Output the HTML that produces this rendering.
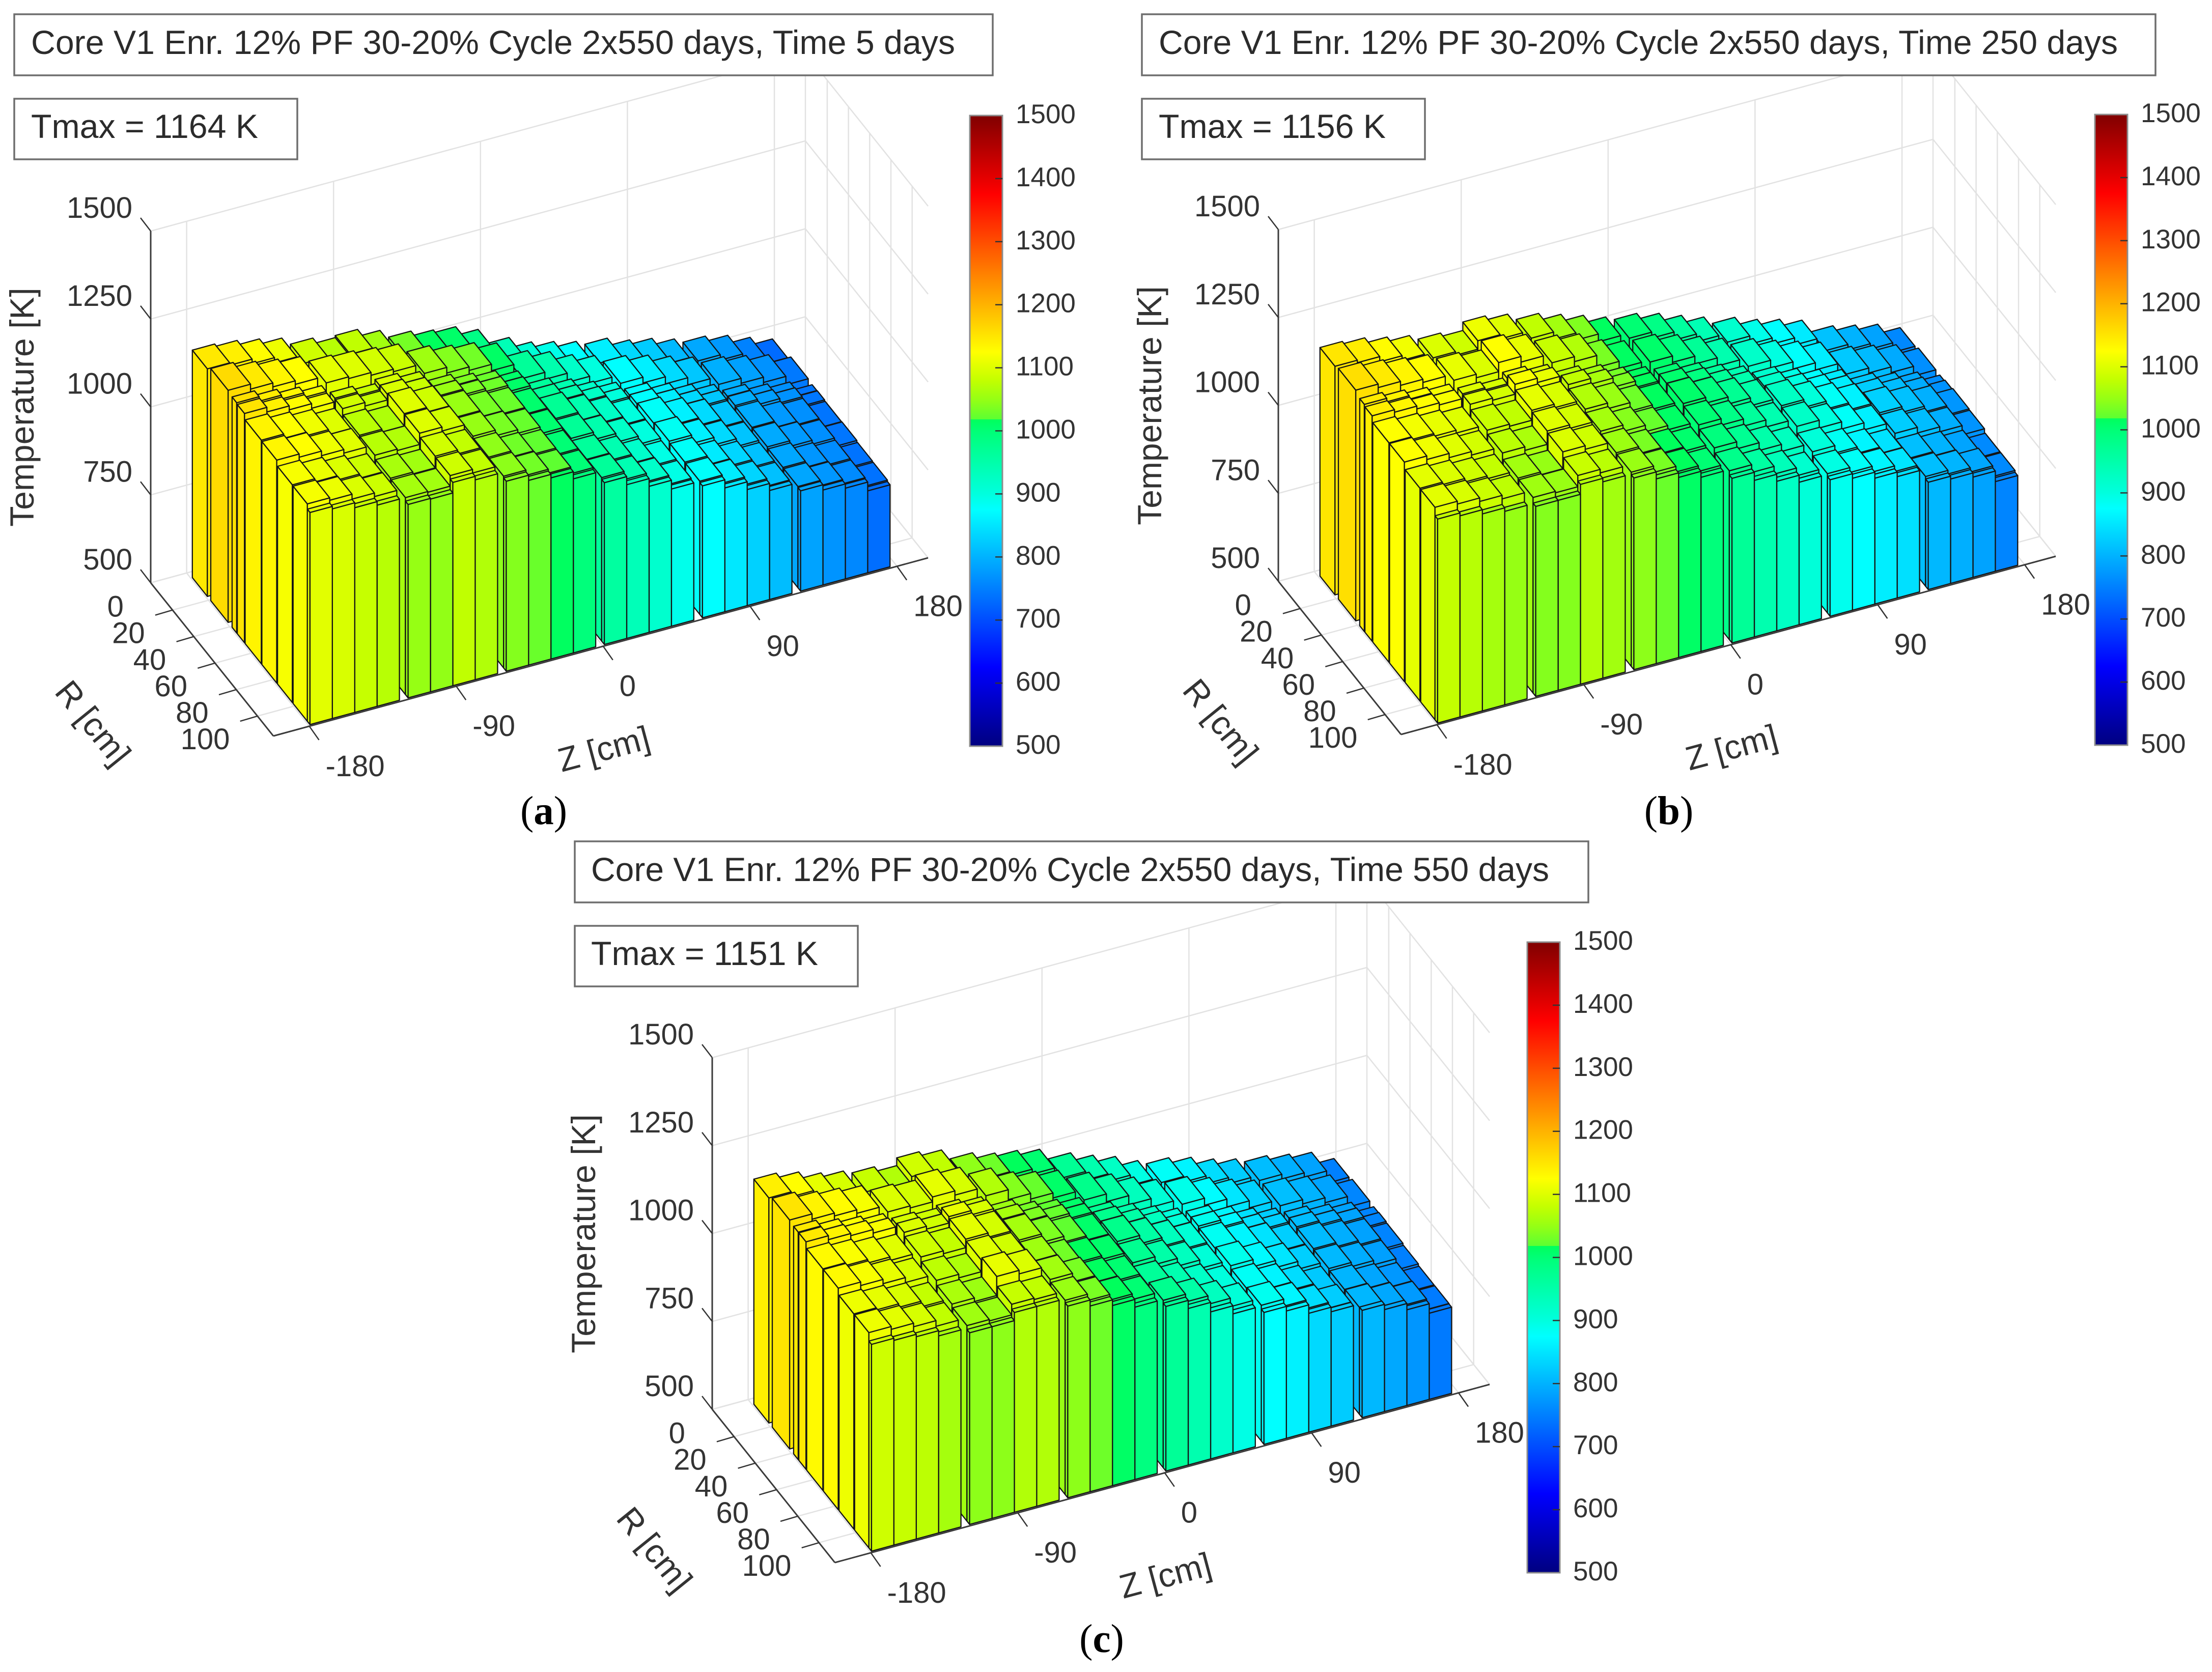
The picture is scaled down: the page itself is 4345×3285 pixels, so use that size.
<!DOCTYPE html>
<html lang="en">
<head>
<meta charset="utf-8">
<title>Core V1 temperature maps</title>
<style>
html,body{margin:0;padding:0;background:#fff;}
svg{display:block;font-family:"Liberation Sans",Arial,sans-serif;}
.box{fill:#fff;stroke:#6e6e6e;stroke-width:3.5;}
.boxtext{font-size:66px;fill:#2b2b2b;}
.axt{font-size:66px;fill:#333;text-anchor:middle;dominant-baseline:central;}
.cap{font-family:"Liberation Serif",serif;font-size:79px;fill:#000;text-anchor:middle;}
</style>
</head>
<body>
<svg id="figure" xmlns="http://www.w3.org/2000/svg" width="4345" height="3285" viewBox="0 0 4345 3285">
<defs><linearGradient id="cmap" x1="0" y1="1" x2="0" y2="0"></linearGradient></defs>
<rect x="0" y="0" width="4345" height="3285" fill="#fff"/>

<g id="plot-a"></g>
<g id="plot-b"></g>
<g id="plot-c"></g>

<g>
<rect class="box" x="28" y="28" width="1922" height="120"/>
<text class="boxtext" x="61" y="106" textLength="1815" lengthAdjust="spacingAndGlyphs">Core V1 Enr. 12% PF 30-20% Cycle 2x550 days, Time 5 days</text>
<rect class="box" x="28" y="194" width="556" height="119"/>
<text class="boxtext" x="61" y="271" textLength="446" lengthAdjust="spacingAndGlyphs">Tmax = 1164 K</text>
<text class="axt" transform="translate(43,800) rotate(-90)">Temperature [K]</text>
<text class="axt" transform="translate(183,1420) rotate(51)">R [cm]</text>
<text class="axt" transform="translate(1186,1471) rotate(-15)">Z [cm]</text>
<text class="cap" x="1068" y="1619">(<tspan font-weight="bold">a</tspan>)</text>
</g>

<g>
<rect class="box" x="2243" y="28" width="1991" height="120"/>
<text class="boxtext" x="2276" y="106" textLength="1884" lengthAdjust="spacingAndGlyphs">Core V1 Enr. 12% PF 30-20% Cycle 2x550 days, Time 250 days</text>
<rect class="box" x="2243" y="194" width="556" height="119"/>
<text class="boxtext" x="2276" y="271" textLength="446" lengthAdjust="spacingAndGlyphs">Tmax = 1156 K</text>
<text class="axt" transform="translate(2258,797) rotate(-90)">Temperature [K]</text>
<text class="axt" transform="translate(2398,1417) rotate(51)">R [cm]</text>
<text class="axt" transform="translate(3401,1468) rotate(-15)">Z [cm]</text>
<text class="cap" x="3278" y="1619">(<tspan font-weight="bold">b</tspan>)</text>
</g>

<g>
<rect class="box" x="1129" y="1653" width="1991" height="120"/>
<text class="boxtext" x="1161" y="1731" textLength="1882" lengthAdjust="spacingAndGlyphs">Core V1 Enr. 12% PF 30-20% Cycle 2x550 days, Time 550 days</text>
<rect class="box" x="1129" y="1819" width="556" height="119"/>
<text class="boxtext" x="1161" y="1896" textLength="446" lengthAdjust="spacingAndGlyphs">Tmax = 1151 K</text>
<text class="axt" transform="translate(1146,2424) rotate(-90)">Temperature [K]</text>
<text class="axt" transform="translate(1286,3044) rotate(51)">R [cm]</text>
<text class="axt" transform="translate(2289,3095) rotate(-15)">Z [cm]</text>
<text class="cap" x="2164" y="3246">(<tspan font-weight="bold">c</tspan>)</text>
</g>
</svg>

<script>
// ---------- chart data ----------
const zTickLabels = [-180, -90, 0, 90, 180];
const rTickLabels = [0, 20, 40, 60, 80, 100];
const tempTickLabels = [500, 750, 1000, 1250, 1500];
const colorbarTickLabels = [500, 600, 700, 800, 900, 1000, 1100, 1200, 1300, 1400, 1500];

// start of each axial bin [cm]
const zBinStarts = [-179,-165.3,-151.6,-137.9, -118.9,-105.2,-91.5,-77.8, -58.8,-45.1,-31.4,-17.7, 1.3,15,28.7,42.4, 61.4,75.1,88.8,102.5, 121.5,135.2,148.9,162.6];
const zBinWidth = 13.7;
// radial bins [cm]
const rBinStarts = [-16.75, 0.6, 20.7, 25.6, 33, 48.8, 63.5, 78.2, 91.6];
const rBinEnds   = [-2.6, 17, 25.1, 32.4, 48.3, 62.8, 77.5, 91.6, 94.1];

// temperature [K], one row per radial bin, one value per axial bin
const tempsDay5 = [
[1147,1140,1127,1112,1088,1072,1078,1058,1032,1018,1010,985,938,908,892,875,860,838,825,806,790,775,752,730],
[1160,1146,1135,1125,1105,1100,1092,1085,1056,1040,1030,1012,966,946,920,900,876,860,840,820,797,783,768,744],
[1155,1142,1131,1118,1092,1082,1094,1082,1050,1036,1026,1008,964,944,920,900,874,856,836,818,794,778,766,741],
[1152,1139,1128,1115,1090,1080,1096,1084,1052,1036,1028,1010,966,946,924,902,876,858,838,820,795,780,768,742],
[1136,1124,1114,1100,1074,1066,1101,1088,1051,1033,1025,1006,970,946,923,900,880,861,840,818,793,775,766,740],
[1134,1125,1112,1102,1072,1068,1100,1089,1050,1034,1024,1005,968,947,922,899,884,860,839,817,792,776,765,741],
[1119,1110,1098,1086,1062,1057,1090,1079,1046,1029,1020,1001,964,943,918,895,880,855,835,814,789,772,762,738],
[1118,1111,1097,1087,1060,1058,1088,1078,1045,1030,1019,1000,965,942,919,894,879,856,834,813,788,773,761,737],
[1103,1096,1082,1072,1050,1048,1078,1068,1040,1025,1015,995,960,937,915,890,875,852,830,810,785,770,758,733]
];
const tempsDay250 = [
[1150,1143,1128,1115,1098,1088,1112,1100,1078,1058,1038,1016,1002,985,962,940,915,892,875,855,815,800,785,758],
[1156,1146,1135,1126,1108,1098,1124,1108,1082,1068,1034,1014,1008,990,968,945,920,898,878,858,822,808,792,765],
[1146,1136,1126,1118,1100,1094,1110,1098,1070,1056,1032,1016,1002,986,964,942,916,894,874,856,822,806,790,764],
[1141,1134,1126,1120,1098,1092,1120,1108,1078,1062,1036,1018,1006,990,968,946,920,898,878,858,826,810,794,768],
[1124,1116,1108,1100,1084,1078,1106,1096,1068,1052,1028,1016,1008,992,972,950,926,904,882,862,830,814,798,772],
[1124,1114,1102,1092,1074,1064,1102,1092,1060,1042,1024,1012,1002,984,964,944,922,900,880,860,826,810,796,770],
[1105,1098,1088,1080,1058,1050,1098,1088,1054,1034,1018,1006,992,972,950,930,905,884,866,848,812,800,786,760],
[1104,1096,1086,1076,1056,1052,1084,1074,1052,1034,1018,1002,980,958,936,914,896,882,866,850,812,802,790,760],
[1080,1072,1060,1050,1040,1040,1068,1058,1045,1025,1012,995,968,945,925,905,888,875,858,845,805,797,785,755]
];
const tempsDay550 = [
[1140,1126,1106,1094,1082,1068,1090,1078,1046,1028,1018,1004,970,946,925,896,880,864,842,825,810,797,785,750],
[1151,1136,1128,1118,1098,1092,1106,1094,1068,1040,1024,1010,980,958,932,908,892,872,850,830,812,800,786,756],
[1147,1134,1124,1114,1094,1088,1096,1086,1054,1032,1020,1008,972,950,926,902,886,866,844,826,808,796,784,754],
[1147,1136,1130,1120,1098,1090,1108,1096,1060,1036,1024,1010,978,954,930,906,888,868,846,830,810,798,786,756],
[1130,1122,1112,1102,1088,1080,1104,1092,1060,1036,1020,1008,980,956,932,908,884,866,848,828,808,796,784,754],
[1130,1120,1108,1094,1076,1066,1100,1090,1056,1030,1018,1008,974,952,930,906,890,870,850,828,806,794,782,750],
[1112,1106,1096,1080,1064,1054,1108,1098,1058,1034,1016,1004,966,944,922,900,882,864,842,822,802,788,774,746],
[1112,1104,1094,1078,1056,1052,1082,1078,1052,1034,1018,1002,976,954,930,906,886,866,842,826,804,790,776,746],
[1088,1082,1075,1060,1045,1045,1068,1068,1045,1028,1012,990,968,945,918,895,875,862,838,825,805,790,772,745]
];

// ---------- projection ----------
const NS = 'http://www.w3.org/2000/svg';
const zMin = -202, zMax = 199, rMin = -20.6, rMax = 95, tMin = 500, tMax = 1500;
const zVec = [1286, -350], rVec = [241, 301], tPx = 0.691;

// colormap knots: temperature, r, g, b
const cmapKnots = [
 [500,0,0,128],[625,0,0,255],[875,0,255,255],[900,0,255,222],[1000,0,255,118],[1018,0,255,92],
 [1018.01,92,255,50],[1050,150,255,20],[1080,195,255,0],[1125,255,255,0],[1375,255,0,0],[1500,128,0,0]
];
function tempColor(t){
  const v = Math.max(tMin, Math.min(tMax, t));
  for (let i = 1; i < cmapKnots.length; i++){
    const a = cmapKnots[i-1], b = cmapKnots[i];
    if (v <= b[0]){
      const f = (v - a[0]) / (b[0] - a[0]);
      return 'rgb(' + [1,2,3].map(k => Math.round(a[k] + f*(b[k]-a[k]))).join(',') + ')';
    }
  }
  return 'rgb(128,0,0)';
}
const grad = document.getElementById('cmap');
cmapKnots.forEach(k => {
  const s = document.createElementNS(NS, 'stop');
  s.setAttribute('offset', (k[0]-tMin)/(tMax-tMin));
  s.setAttribute('stop-color', 'rgb(' + k[1] + ',' + k[2] + ',' + k[3] + ')');
  grad.appendChild(s);
});

function makeProjector(ox, oy){
  return function(z, r, t){
    const fz = (z - zMin)/(zMax - zMin), fr = (r - rMin)/(rMax - rMin);
    return [ox + fz*zVec[0] + fr*rVec[0], oy + fz*zVec[1] + fr*rVec[1] - (t - tMin)*tPx];
  };
}
function addLine(parent, a, b, color, width){
  const l = document.createElementNS(NS, 'line');
  l.setAttribute('x1', a[0].toFixed(1));
  l.setAttribute('y1', a[1].toFixed(1));
  l.setAttribute('x2', b[0].toFixed(1));
  l.setAttribute('y2', b[1].toFixed(1));
  l.setAttribute('stroke', color);
  l.setAttribute('stroke-width', width);
  parent.appendChild(l);
  return l;
}
function addText(parent, x, y, str, size, anchor){
  const t = document.createElementNS(NS, 'text');
  t.setAttribute('x', x.toFixed(1));
  t.setAttribute('y', y.toFixed(1));
  t.setAttribute('font-size', size);
  t.setAttribute('fill', '#333');
  t.setAttribute('text-anchor', anchor);
  t.textContent = str;
  parent.appendChild(t);
  return t;
}
function addFace(parent, pts, fill){
  const p = document.createElementNS(NS, 'polygon');
  p.setAttribute('points', pts.map(q => q[0].toFixed(1) + ',' + q[1].toFixed(1)).join(' '));
  p.setAttribute('fill', fill);
  p.setAttribute('stroke', '#141414');
  p.setAttribute('stroke-width', '2.3');
  p.setAttribute('stroke-linejoin', 'round');
  parent.appendChild(p);
  return p;
}

function drawPanel(rootId, temps, ox, oy, cbx, cby){
  const root = document.getElementById(rootId);
  const P = makeProjector(ox, oy);
  const gridColor = '#e2e2e2', axisColor = '#3a3a3a', tickColor = '#333';

  // ----- grid -----
  const grid = document.createElementNS(NS, 'g');
  
  
  root.appendChild(grid);
  tempTickLabels.forEach(t => {
    let l = addLine(grid, P(zMin,rMin,t), P(zMax,rMin,t), gridColor, 2.5);
    
    
    l = addLine(grid, P(zMax,rMin,t), P(zMax,rMax,t), gridColor, 2.5);
    
    
  });
  let corner = addLine(grid, P(zMax,rMin,tMin), P(zMax,rMin,tMax), gridColor, 2.5);
  
  
  corner = addLine(grid, P(zMax,rMin,tMin), P(zMax,rMax,tMin), gridColor, 2.5);
  
  
  corner = addLine(grid, P(zMin,rMin,tMin), P(zMax,rMin,tMin), gridColor, 2.5);
  
  
  zTickLabels.forEach(z => {
    let l = addLine(grid, P(z,rMin,tMin), P(z,rMin,tMax), gridColor, 2.5);
    
    
    l = addLine(grid, P(z,rMin,tMin), P(z,rMax,tMin), gridColor, 2.5);
    
    
  });
  rTickLabels.forEach(r => {
    if (r > rMax) return;
    let l = addLine(grid, P(zMax,r,tMin), P(zMax,r,tMax), gridColor, 2.5);
    
    
    l = addLine(grid, P(zMin,r,tMin), P(zMax,r,tMin), gridColor, 2.5);
    
    
  });

  // ----- bars, painted back to front -----
  const bars = document.createElementNS(NS, 'g');
  
  
  root.appendChild(bars);
  for (let i = 0; i < rBinStarts.length; i++){
    const r0 = rBinStarts[i], r1 = rBinEnds[i];
    for (let j = zBinStarts.length - 1; j >= 0; j--){
      const z0 = zBinStarts[j], z1 = z0 + zBinWidth, t = temps[i][j], c = tempColor(t);
      const g = document.createElementNS(NS, 'g');
      
      
      addFace(g, [P(z0,r0,tMin),P(z0,r1,tMin),P(z0,r1,t),P(z0,r0,t)], c);
      addFace(g, [P(z0,r1,tMin),P(z1,r1,tMin),P(z1,r1,t),P(z0,r1,t)], c);
      addFace(g, [P(z0,r0,t),P(z1,r0,t),P(z1,r1,t),P(z0,r1,t)], c);
      bars.appendChild(g);
    }
  }

  // ----- axes -----
  const axes = document.createElementNS(NS, 'g');
  
  
  root.appendChild(axes);
  let ax = addLine(axes, P(zMin,rMin,tMin), P(zMin,rMin,tMax), axisColor, 3);
  
  
  ax = addLine(axes, P(zMin,rMin,tMin), P(zMin,rMax,tMin), axisColor, 3);
  
  
  ax = addLine(axes, P(zMin,rMax,tMin), P(zMax,rMax,tMin), axisColor, 3);
  
  

  tempTickLabels.forEach(t => {
    const p = P(zMin,rMin,t);
    const tk = addLine(axes, p, [p[0]-20, p[1]-26], tickColor, 2.5);
    
    
    const lb = addText(axes, p[0]-36, p[1]-26, String(t), 58, 'end');
    
    
  });
  rTickLabels.forEach(r => {
    const p = P(zMin,r,tMin);
    if (r <= rMax){
      const tk = addLine(axes, p, [p[0]-34, p[1]+10], tickColor, 2.5);
      
      
    }
    const lb = addText(axes, p[0]-96, p[1]+13, String(r), 58, 'end');
    
    
  });
  zTickLabels.forEach(z => {
    const p = P(z,rMax,tMin);
    const tk = addLine(axes, p, [p[0]+19, p[1]+27], tickColor, 2.5);
    
    
    const lb = addText(axes, p[0]+32, p[1]+98, String(z), 58, 'start');
    
    
  });

  // ----- colorbar -----
  const cb = document.createElementNS(NS, 'g');
  
  
  root.appendChild(cb);
  const cbW = 64, cbH = 1239;
  const rect = document.createElementNS(NS, 'rect');
  rect.setAttribute('x', cbx);
  rect.setAttribute('y', cby);
  rect.setAttribute('width', cbW);
  rect.setAttribute('height', cbH);
  rect.setAttribute('fill', 'url(#cmap)');
  rect.setAttribute('stroke', '#8c8c8c');
  rect.setAttribute('stroke-width', '3');
  
  
  cb.appendChild(rect);
  colorbarTickLabels.forEach(v => {
    const y = cby + cbH*(1 - (v - tMin)/(tMax - tMin));
    if (v > tMin && v < tMax){
      const tk = addLine(cb, [cbx+cbW-14, y], [cbx+cbW, y], '#333', 2.5);
      
      
    }
    const lb = addText(cb, cbx+90, y+15, String(v), 53, 'start');
    
    
  });
}

drawPanel('plot-a', tempsDay5,   296,  1145, 1905, 227);
drawPanel('plot-b', tempsDay250, 2511, 1142, 4115, 225);
drawPanel('plot-c', tempsDay550, 1399, 2769, 3000, 1851);
</script>
</body>
</html>
